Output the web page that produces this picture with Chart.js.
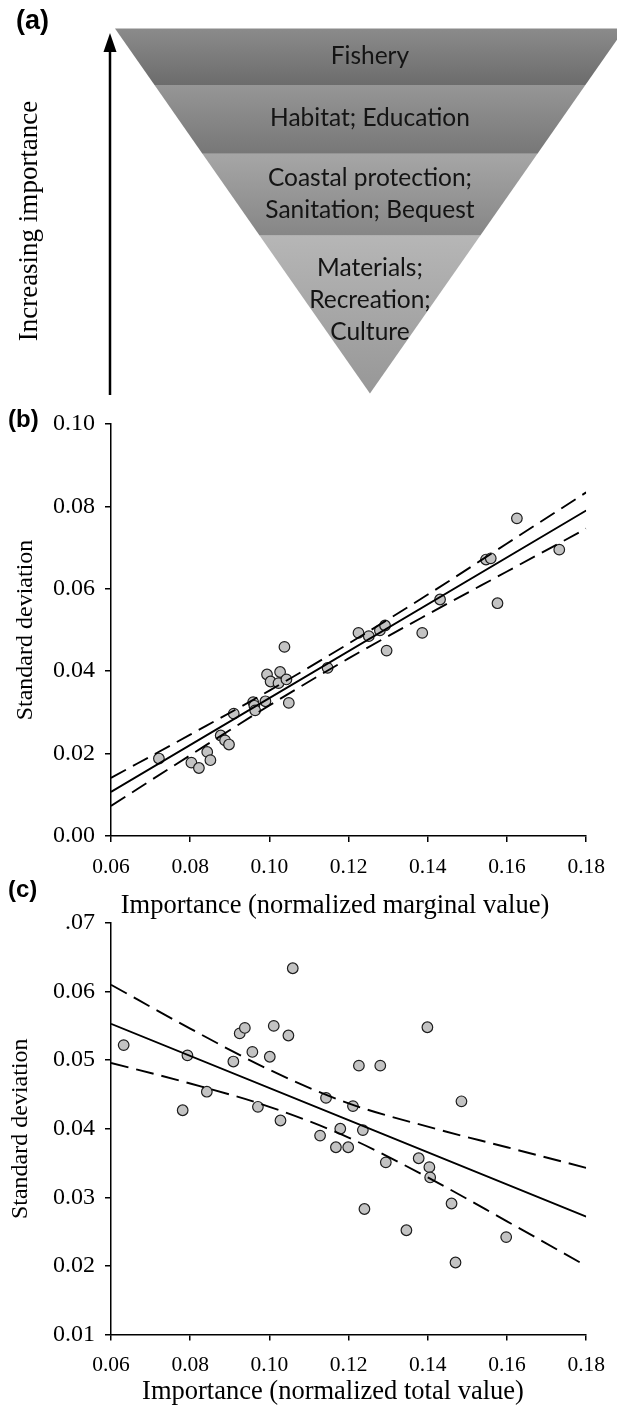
<!DOCTYPE html>
<html><head><meta charset="utf-8">
<script src="https://cdn.jsdelivr.net/npm/chart.js@4.4.1/dist/chart.umd.min.js"></script>
<style>
html,body{margin:0;padding:0;background:#fff;}
body{width:617px;height:1413px;position:relative;overflow:hidden;}
canvas{position:absolute;left:0;}
</style></head><body>
<canvas id="ca" width="617" height="400" style="top:0px"></canvas>
<canvas id="cb" width="617" height="530" style="top:395px"></canvas>
<canvas id="cc" width="617" height="533" style="top:880px"></canvas>
<script>
// ---------- Panel (a): importance pyramid ----------
const tierNames = [['Fishery'], ['Habitat; Education'], ['Coastal protection;', 'Sanitation; Bequest'], ['Materials;', 'Recreation;', 'Culture']];
const tierTop = [1.0, 0.845, 0.657, 0.433];
const tierBottom = [0.845, 0.657, 0.433, 0.0];
const tierLabelLevel = [0.923, 0.754, 0.547, 0.256];
const tierColorTop = ['#8b8b8b', '#969696', '#a6a6a6', '#b6b6b6'];
const tierColorBottom = ['#6c6c6c', '#777777', '#868686', '#979797'];
const axisTitleA = 'Increasing importance';

// ---------- Panel (b): marginal value ----------
const marginalX = [0.0721,0.0803,0.0822,0.0843,0.0851,0.0877,0.0888,0.0898,0.0910,0.0959,0.0962,0.0964,0.0990,0.0994,0.1003,0.1023,0.1027,0.1038,0.1043,0.1049,0.1147,0.1225,0.1251,0.1279,0.1292,0.1296,0.1386,0.1431,0.1547,0.1559,0.1576,0.1625,0.1732];
const marginalSD = [0.0188,0.0178,0.0165,0.0204,0.0184,0.0244,0.0232,0.0222,0.0297,0.0325,0.0316,0.0305,0.0327,0.0392,0.0375,0.0371,0.0398,0.0459,0.0380,0.0323,0.0408,0.0493,0.0485,0.0499,0.0511,0.0450,0.0493,0.0574,0.0671,0.0674,0.0565,0.0771,0.0695];
const fitXEnds = [0.06, 0.18];
const fitB = [0.0107, 0.0790];
const bandX = [0.06, 0.08, 0.10, 0.12, 0.14, 0.16, 0.18];
const upperB = [0.0141, 0.0246, 0.0353, 0.0467, 0.0586, 0.0710, 0.0834];
const lowerB = [0.0073, 0.0196, 0.0317, 0.0431, 0.0538, 0.0642, 0.0746];

// ---------- Panel (c): total value ----------
const totalX = [0.0632,0.0793,0.0781,0.0842,0.0909,0.0925,0.0938,0.0957,0.0971,0.1001,0.1011,0.1028,0.1048,0.1059,0.1128,0.1143,0.1168,0.1179,0.1199,0.1211,0.1226,0.1236,0.1240,0.1280,0.1294,0.1346,0.1377,0.1399,0.1404,0.1406,0.1460,0.1470,0.1485,0.1598];
const totalSD = [0.0522,0.0507,0.0427,0.0454,0.0498,0.0539,0.0547,0.0512,0.0432,0.0505,0.0550,0.0412,0.0536,0.0634,0.0390,0.0445,0.0373,0.0400,0.0373,0.0433,0.0492,0.0398,0.0283,0.0492,0.0351,0.0252,0.0357,0.0548,0.0344,0.0329,0.0291,0.0205,0.0440,0.0242];
const fitC = [0.0553, 0.0272];
const upperC = [0.0610, 0.0546, 0.0486, 0.0437, 0.0403, 0.0373, 0.0343];
const lowerC = [0.0496, 0.0466, 0.0432, 0.0387, 0.0329, 0.0265, 0.0200];

// ---------- ticks & labels ----------
const xTickValues = [0.06, 0.08, 0.10, 0.12, 0.14, 0.16, 0.18];
const xTickLabels = ['0.06', '0.08', '0.10', '0.12', '0.14', '0.16', '0.18'];
const yTickValuesB = [0.00, 0.02, 0.04, 0.06, 0.08, 0.10];
const yTickLabelsB = ['0.00', '0.02', '0.04', '0.06', '0.08', '0.10'];
const yTickValuesC = [0.01, 0.02, 0.03, 0.04, 0.05, 0.06, 0.07];
const yTickLabelsC = ['0.01', '0.02', '0.03', '0.04', '0.05', '0.06', '.07'];
const xTitleB = 'Importance (normalized marginal value)';
const xTitleC = 'Importance (normalized total value)';
const yTitle = 'Standard deviation';
const panelLabels = ['(a)', '(b)', '(c)'];

const SERIF = '"Liberation Serif", "Times New Roman", serif';

// ================= Panel (a) =================
function tierPolygon(i) {
  const t = tierTop[i], b = tierBottom[i];
  return [{x: -t, y: t}, {x: t, y: t}, {x: b, y: b}, {x: -b, y: b}, {x: -t, y: t}];
}
const pyramidPlugin = {
  id: 'pyramidText',
  afterDatasetsDraw(chart) {
    const {ctx, scales: {x, y}} = chart;
    ctx.save();
    ctx.fillStyle = '#141414';
    ctx.textAlign = 'center';
    ctx.textBaseline = 'middle';
    ctx.font = '24.5px Lato, "Open Sans", sans-serif';
    const cx = x.getPixelForValue(0);
    tierNames.forEach((lines, i) => {
      const cy = y.getPixelForValue(tierLabelLevel[i]);
      lines.forEach((t, j) => ctx.fillText(t, cx, cy + (j - (lines.length - 1) / 2) * 32));
    });
    // arrow
    ctx.strokeStyle = '#000';
    ctx.fillStyle = '#000';
    ctx.lineWidth = 2.5;
    ctx.beginPath();
    ctx.moveTo(110, 395);
    ctx.lineTo(110, 46);
    ctx.stroke();
    ctx.beginPath();
    ctx.moveTo(110, 33);
    ctx.lineTo(103.5, 52);
    ctx.lineTo(116.5, 52);
    ctx.closePath();
    ctx.fill();
    // rotated title
    ctx.save();
    ctx.translate(30, 221);
    ctx.rotate(-Math.PI / 2);
    ctx.font = '27px ' + SERIF;
    ctx.fillText(axisTitleA, 0, 0);
    ctx.restore();
    // panel label
    ctx.textAlign = 'left';
    ctx.font = 'bold 27px "Liberation Sans", Arial, sans-serif';
    ctx.fillText(panelLabels[0], 16, 22);
    ctx.restore();
  }
};
new Chart(document.getElementById('ca'), {
  type: 'scatter',
  data: {
    datasets: tierNames.map((n, i) => ({
      label: n.join(' '),
      data: tierPolygon(i),
      showLine: true,
      fill: 'shape',
      tension: 0,
      pointRadius: 0,
      borderWidth: 0,
      borderColor: 'rgba(0,0,0,0)',
      backgroundColor: (c) => {
        const chart = c.chart;
        if (!chart.chartArea) return tierColorTop[i];
        const ys = chart.scales.y;
        const g = chart.ctx.createLinearGradient(0, ys.getPixelForValue(tierTop[i]), 0, ys.getPixelForValue(tierBottom[i]));
        g.addColorStop(0, tierColorTop[i]);
        g.addColorStop(1, tierColorBottom[i]);
        return g;
      }
    }))
  },
  options: {
    responsive: false, animation: false,
    layout: {padding: 0},
    plugins: {legend: {display: false}, tooltip: {enabled: false}},
    scales: {
      x: {type: 'linear', display: false, min: -1.451, max: 0.969},
      y: {type: 'linear', display: false, min: -0.018, max: 1.078}
    }
  },
  plugins: [pyramidPlugin]
});

// ================= Panels (b) and (c) =================
function scatterPanel(canvasId, cfg) {
  const labelPlugin = {
    id: 'panelLabel' + canvasId,
    afterDraw(chart) {
      const ctx = chart.ctx;
      ctx.save();
      ctx.fillStyle = '#000';
      ctx.textBaseline = 'middle';
      ctx.textAlign = 'left';
      ctx.font = 'bold 24px "Liberation Sans", Arial, sans-serif';
      ctx.fillText(cfg.panel, 8, cfg.panelY);
      // x-axis title (slightly left of the plot centre, as in the original)
      ctx.textAlign = 'center';
      ctx.font = '26.5px ' + SERIF;
      ctx.fillText(cfg.xTitle, cfg.xTitleX, cfg.xTitleY);
      ctx.restore();
    }
  };
  const pts = cfg.xs.map((x, i) => ({x: x, y: cfg.ys[i]}));
  const lineDs = (xs, ys, dash) => ({
    data: xs.map((x, i) => ({x: x, y: ys[i]})),
    showLine: true, pointRadius: 0, borderColor: '#000', borderWidth: 1.9,
    borderDash: dash, cubicInterpolationMode: 'monotone', fill: false, order: 0
  });
  new Chart(document.getElementById(canvasId), {
    type: 'scatter',
    data: {
      datasets: [
        lineDs(fitXEnds, cfg.fit, []),
        lineDs(bandX, cfg.upper, cfg.dash),
        lineDs(bandX, cfg.lower, cfg.dash),
        {data: pts, pointRadius: 5.3, pointBackgroundColor: '#c3c3c3', pointBorderColor: '#1e1e1e', pointBorderWidth: 1.2, showLine: false, order: 1}
      ]
    },
    options: {
      responsive: false, animation: false,
      layout: {padding: {top: cfg.padTop, right: 24, bottom: 0, left: 0}},
      plugins: {legend: {display: false}, tooltip: {enabled: false}},
      scales: {
        x: {
          type: 'linear', min: 0.06, max: 0.18,
          afterBuildTicks: s => { s.ticks = xTickValues.map(v => ({value: v})); },
          afterFit: s => { s.height = cfg.xHeight; },
          ticks: {callback: (v, i) => xTickLabels[i], color: '#000', font: {family: SERIF, size: 21.5}, padding: 12, autoSkip: false, maxRotation: 0},
          grid: {display: true, drawOnChartArea: false, drawTicks: true, tickLength: 6, color: '#000', lineWidth: 1.5},
          border: {display: true, color: '#000', width: 1.5},
          title: {display: false}
        },
        y: {
          type: 'linear', min: cfg.ymin, max: cfg.ymax,
          afterBuildTicks: s => { s.ticks = cfg.yTicks.map(v => ({value: v})); },
          afterFit: s => { s.width = 111; },
          ticks: {callback: (v, i) => cfg.yLabels[i], color: '#000', font: {family: SERIF, size: 24}, padding: 10, autoSkip: false},
          grid: {display: true, drawOnChartArea: false, drawTicks: true, tickLength: 6, color: '#000', lineWidth: 1.5},
          border: {display: true, color: '#000', width: 1.5},
          title: {display: true, text: yTitle, color: '#000', font: {family: SERIF, size: 24, lineHeight: 1.2}, padding: {top: cfg.yTitlePad, bottom: 0}}
        }
      }
    },
    plugins: [labelPlugin]
  });
}

scatterPanel('cb', {
  xs: marginalX, ys: marginalSD, fit: fitB, upper: upperB, lower: lowerB, dash: [17, 8],
  ymin: 0, ymax: 0.10, yTicks: yTickValuesB, yLabels: yTickLabelsB,
  xTitle: xTitleB, padTop: 29, xHeight: 89, xTitleX: 335, xTitleY: 511, yTitlePad: 11.5,
  panel: panelLabels[1], panelY: 25
});
scatterPanel('cc', {
  xs: totalX, ys: totalSD, fit: fitC, upper: upperC, lower: lowerC, dash: [18, 8],
  ymin: 0.01, ymax: 0.07, yTicks: yTickValuesC, yLabels: yTickLabelsC,
  xTitle: xTitleC, padTop: 43, xHeight: 78.5, xTitleX: 333, xTitleY: 512, yTitlePad: 6.5,
  panel: panelLabels[2], panelY: 10
});
</script>
</body></html>
